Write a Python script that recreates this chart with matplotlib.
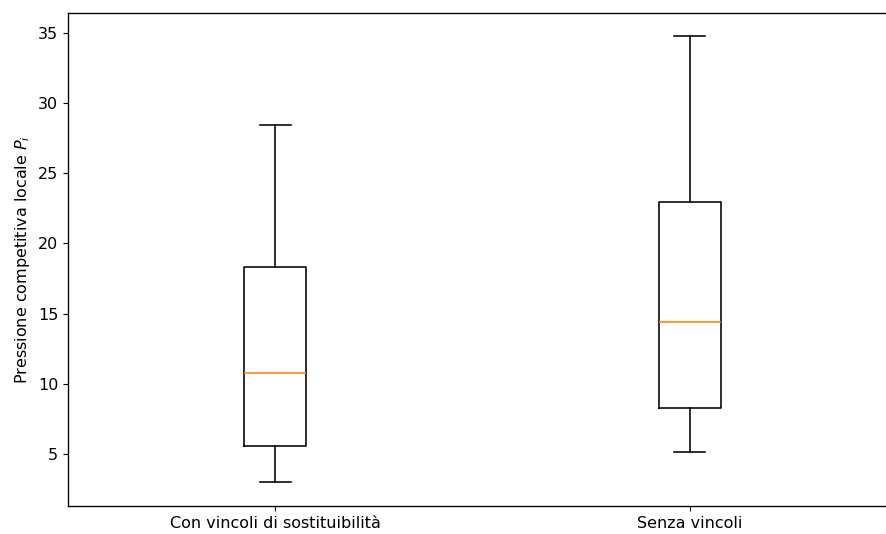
import matplotlib
matplotlib.use('Agg')
import matplotlib.pyplot as plt

labels = ['Con vincoli di sostituibilità', 'Senza vincoli']
whislo = [3.0, 5.15]
q1 = [5.57, 8.27]
med = [10.8, 14.4]
q3 = [18.3, 22.95]
whishi = [28.45, 34.75]

stats = []
for i in range(len(labels)):
    stats.append({'label': labels[i], 'whislo': whislo[i], 'q1': q1[i],
                  'med': med[i], 'q3': q3[i], 'whishi': whishi[i], 'fliers': []})

plt.rcParams['font.size'] = 11.5
plt.rcParams['axes.linewidth'] = 0.95
lw = 1.15
fig = plt.figure(figsize=(8.86, 5.34), dpi=100)
ax = fig.add_axes([68/886, 1-506/534, (897-68)/886, (506-13)/534])
ax.bxp(stats, showfliers=False,
       boxprops=dict(linewidth=lw), whiskerprops=dict(linewidth=lw),
       capprops=dict(linewidth=lw), medianprops=dict(linewidth=lw, color='C1'))
ax.set_ylabel('Pressione competitiva locale $P_i$')
ax.set_ylim(1.3, 36.4)
fig.savefig('out.png', dpi=100)
